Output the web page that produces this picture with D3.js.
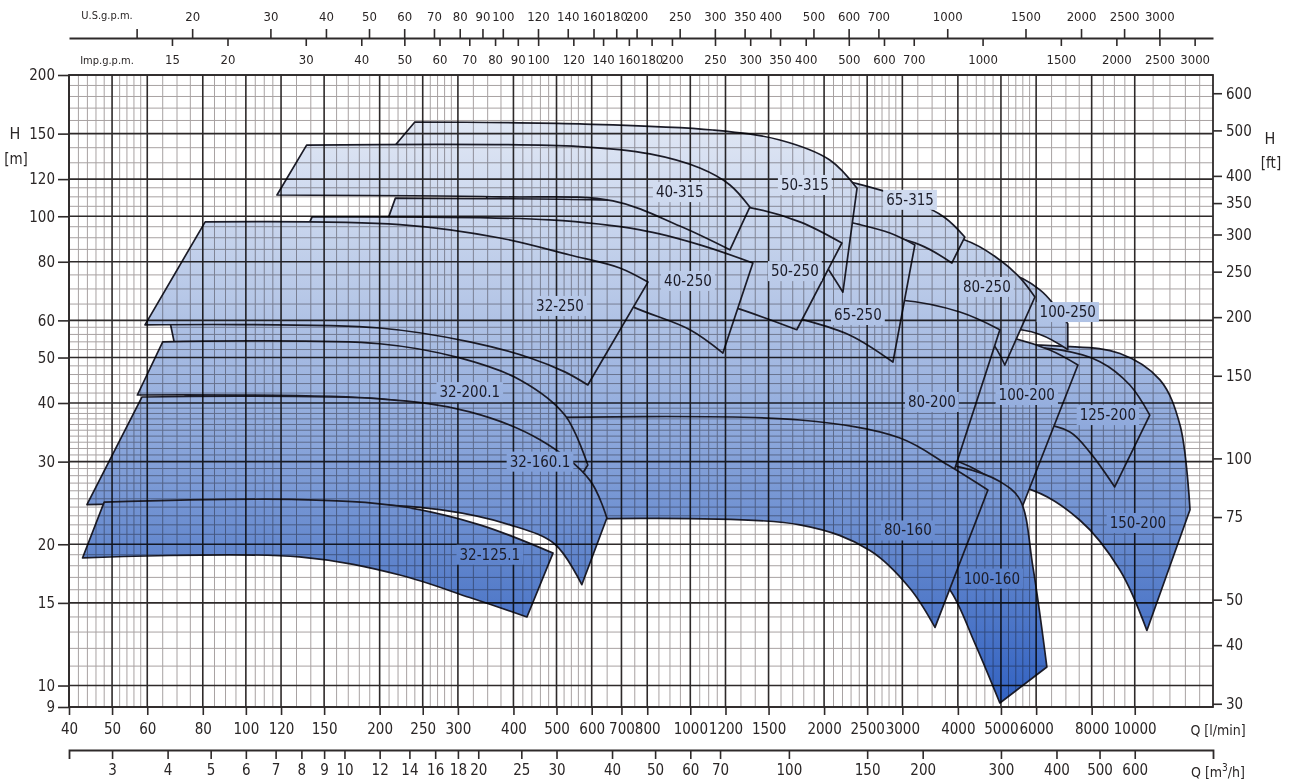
<!DOCTYPE html>
<html><head><meta charset="utf-8">
<script src="https://cdn.jsdelivr.net/npm/d3@7"></script>
<style>body{margin:0;background:#fff}</style></head>
<body><svg id="c" width="1291" height="783"></svg>
<script>
// ---------- axis data ----------
const qTicks=[40,50,60,80,100,120,150,200,250,300,400,500,600,700,800,1000,1200,1500,2000,2500,3000,4000,5000,6000,8000,10000];
const qMinor=[42,44,46,48,52,54,56,58,65,70,75,85,90,95,105,110,115,130,140,160,170,180,190,210,220,230,240,260,270,280,290,325,350,375,420,440,460,480,520,540,560,580,650,750,850,900,950,1050,1100,1150,1300,1400,1600,1700,1800,1900,2100,2200,2300,2400,2600,2700,2800,2900,3250,3500,3750,4200,4400,4600,4800,5200,5400,5600,5800,6500,7000,7500,8500,9000,9500,11000,12000,13000,14000];
const hTicks=[200,150,120,100,80,60,50,40,30,20,15,10,9];
const hMinor=[11,12,13,14,16,17,18,19,21,22,23,24,25,26,27,28,29,31,32,33,34,35,36,37,38,39,42,44,46,48,52,54,56,58,65,70,75,85,90,95,105,110,115,130,140,160,170,180,190];
const ftTicks=[600,500,400,350,300,250,200,150,100,75,50,40,30];
const usTicks=[15,20,30,40,50,60,70,80,90,100,120,140,160,180,200,250,300,350,400,500,600,700,1000,1500,2000,2500,3000];
const impTicks=[15,20,30,40,50,60,70,80,90,100,120,140,160,180,200,250,300,350,400,500,600,700,1000,1500,2000,2500,3000];
const m3hTicks=[3,4,5,6,7,8,9,10,12,14,16,18,20,25,30,40,50,60,70,100,150,200,300,400,500,600];

// ---------- pump tiles (Q l/min, H m), drawn back to front ----------
const names=["150-200","125-200","100-250","100-200","100-160","80-250","80-200","80-160","65-315","65-250","50-315","50-250","40-315","40-250","32-250","32-200.1","32-160.1","32-125.1"];
const tops=[
 [[2000,53],[6787,52.9],[9265,51.0],[11396,44.8],[12642,35.9],[13315,23.7]],
 [[2500,54.2],[6787,51.9],[8352,49.0],[9749,43.7],[10810,37.7]],
 [[1500,88],[4972,76.8],[6119,69.7],[7068,59]],
 [[1051,60.1],[2963,58.7],[4972,55.8],[6437,51.9],[7450,48.2]],
 [[1500,30.5],[2963,30.0],[4042,29.2],[4972,27.2],[5516,24.9],[5900,17.9],[6343,10.95]],
 [[626,100.7],[2408,95.7],[4146,89.0],[4972,80.7],[5516,74.0],[5962,67.3]],
 [[66,66],[1764,65.6],[2963,66.3],[4042,62.5],[4972,57.3]],
 [[450,37.2],[1764,36.8],[2963,33.7],[3800,29.5],[4673,26.1]],
 [[373,128.6],[1051,126.6],[1957,122.4],[2383,117.2],[3122,108.4],[3741,99.3],[4146,90.3]],
 [[336,108.4],[1051,105.7],[1764,102],[2383,96.2],[2813,92.1],[3201,86.9]],
 [[240,158.8],[564,157.3],[1124,152.7],[1590,145.4],[2060,131.8],[2372,114.7]],
 [[217,109.3],[626,108.4],[1051,106.7],[1361,104.3],[1764,97.3],[2193,87.7]],
 [[137,141.8],[564,140.8],[811,135.8],[1051,126.7],[1228,116.6],[1361,104.6]],
 [[141,99.7],[483,98.2],[771,93.5],[1051,86.9],[1383,79.5]],
 [[81,97.3],[222,96.0],[373,89.9],[536,82.7],[694,77.6],[803,72.4]],
 [[65,54],[200,53.5],[303,49.9],[414,44.8],[522,37.7],[588,29.5]],
 [[58.4,41.2],[200,40.8],[319,38.3],[459,33.4],[594,27.4],[649,22.75]],
 [[48,24.6],[132,24.9],[222,24.1],[336,22.0],[491,19.15]]
];
const bottoms=[
 [[2000,27.5],[2963,27.4],[5658,26.4],[7529,22.5],[9265,17.6],[10650,13.1]],
 [[2500,36.8],[6119,36.1],[7149,34.7],[7928,31.4],[9014,26.5]],
 [[1500,60],[4972,58],[6119,56],[7068,52]],
 [[1051,33.4],[2963,31.8],[4042,29.9],[4972,26.7],[5571,23.9]],
 [[1500,24],[2500,22],[3300,18.5],[3837,16.0],[4369,12.3],[4972,9.18]],
 [[626,67.9],[2963,66.3],[4042,60.1],[4722,54.5],[5101,48.2]],
 [[73,41.6],[536,37.2],[1764,36.4],[2671,33.4],[3287,29.9],[3798,26.1]],
 [[430,22.5],[1764,22.0],[2536,19.4],[3122,16.1],[3553,13.3]],
 [[336,100.7],[1361,98.2],[2408,93.5],[3287,86.9],[3876,79.5]],
 [[319,69.7],[1051,67.9],[1736,60.7],[2286,55.8],[2857,48.9]],
 [[180,115],[564,112],[1051,108],[1500,100],[1800,92],[2039,77.4],[2205,68.9]],
 [[190,76.8],[811,71.7],[1247,64.1],[1736,57.3]],
 [[117.5,111],[373,110],[670,107.8],[947,95.3],[1228,84.8]],
 [[126,80],[373,78.7],[564,73.2],[743,64.1],[998,57.3],[1184,51.1]],
 [[59.3,58.7],[200,57.8],[319,54.0],[436,49.9],[522,46.6],[588,43.7]],
 [[57,41.6],[200,40.8],[303,38.3],[393,34.7],[471,29.5],[501,23.1]],
 [[43.9,24.3],[155,24.5],[273,23.7],[393,22.0],[496,20.0],[570,16.4]],
 [[42.9,18.7],[132,18.8],[222,17.2],[319,15.4],[429,14.0]]
];
const labelQ=[10165,8700,7068,5715,4769,4648,3497,3087,3122,2383,1810,1719,947,988,509,319,459,354];
const labelH=[22.2,37.7,62.5,41.6,16.9,70.7,40.2,21.4,108.4,61.6,116.6,76.4,112.6,72.8,64.4,42.2,30.0,19.0];

// ---------- drawing ----------
const FF="'Liberation Sans Narrow','DejaVu Sans Condensed','Liberation Sans',sans-serif";
const svg=d3.select("#c");
const x=d3.scaleLog().domain([40,15000]).range([69,1213]);
const y=d3.scaleLog().domain([9,200]).range([707,75]);
const yFt=d3.scaleLog().domain([9*3.28084,200*3.28084]).range([707,75]);
const xUS=d3.scaleLog().domain([40/3.7854,15000/3.7854]).range([69,1213]);
const xImp=d3.scaleLog().domain([40/4.5461,15000/4.5461]).range([69,1213]);
const xM3=d3.scaleLog().domain([40*0.06,15000*0.06]).range([69,1213]);

const defs=svg.append("defs");
const g=defs.append("linearGradient").attr("id","grad").attr("gradientUnits","userSpaceOnUse")
 .attr("x1",0).attr("x2",0).attr("y1",110).attr("y2",705);
[[0,"#e3e9f5"],[0.32,"#b6c7e7"],[0.57,"#88a4da"],[0.76,"#5f84cc"],[1,"#3262c2"]]
 .forEach(s=>g.append("stop").attr("offset",s[0]).attr("stop-color",s[1]));

const line=d3.line().x(d=>x(d[0])).y(d=>y(d[1])).curve(d3.curveCatmullRom.alpha(0.5));
const tileG=svg.append("g");
names.forEach((n,i)=>{
 const t=line(tops[i]);
 const b=line(bottoms[i].slice().reverse()).replace(/^M/,"L");
 tileG.append("path").attr("d",t+b+"Z").attr("fill","url(#grad)")
  .attr("stroke","#1c1c28").attr("stroke-width",1.7).attr("stroke-linejoin","round");
});

// grid
const grid=svg.append("g").style("mix-blend-mode","multiply");
grid.selectAll(".vm").data(qMinor).join("line").attr("x1",d=>x(d)).attr("x2",d=>x(d)).attr("y1",75).attr("y2",707)
 .attr("stroke","#a8a2a2").attr("stroke-width",1);
grid.selectAll(".hm").data(hMinor).join("line").attr("y1",d=>y(d)).attr("y2",d=>y(d)).attr("x1",69).attr("x2",1213)
 .attr("stroke","#a8a2a2").attr("stroke-width",1);
grid.selectAll(".vM").data(qTicks).join("line").attr("x1",d=>x(d)).attr("x2",d=>x(d)).attr("y1",75).attr("y2",707)
 .attr("stroke","#2e2a2a").attr("stroke-width",1.6);
grid.selectAll(".hM").data(hTicks).join("line").attr("y1",d=>y(d)).attr("y2",d=>y(d)).attr("x1",69).attr("x2",1213)
 .attr("stroke","#2e2a2a").attr("stroke-width",1.6);
svg.append("rect").attr("x",69).attr("y",75).attr("width",1213-69).attr("height",707-75)
 .attr("fill","none").attr("stroke","#2e2a2a").attr("stroke-width",1.8);

// labels
names.forEach((n,i)=>{
 const lg=svg.append("g");
 const t=lg.append("text").attr("x",x(labelQ[i])).attr("y",y(labelH[i])).attr("text-anchor","middle")
  .attr("dominant-baseline","central").attr("font-family",FF).attr("font-size",15).attr("fill","#1c1c28").text(n);
 const bb=t.node().getBBox();
 lg.insert("rect","text").attr("x",bb.x-3).attr("y",bb.y-1).attr("width",bb.width+6).attr("height",bb.height+2).attr("fill","url(#grad)");
});

function styleAxis(sel,fs){
 sel.selectAll("text").attr("font-family",FF).attr("font-size",fs||15).attr("fill","#2a2626");
 sel.selectAll("line").attr("stroke","#2e2a2a").attr("stroke-width",1.6);
 sel.selectAll("path.domain").attr("stroke","#2e2a2a").attr("stroke-width",1.8);
}
const fmt=d3.format("d");
svg.append("g").attr("transform","translate(69,0)")
 .call(d3.axisLeft(y).tickValues(hTicks).tickFormat(fmt).tickSize(11).tickPadding(3).tickSizeOuter(0))
 .call(styleAxis).call(s=>s.select(".domain").remove());
svg.append("g").attr("transform","translate(1213,0)")
 .call(d3.axisRight(yFt).tickValues(ftTicks).tickFormat(fmt).tickSize(9).tickPadding(4).tickSizeOuter(0))
 .call(styleAxis).call(s=>s.select(".domain").remove());
svg.append("g").attr("transform","translate(0,707)")
 .call(d3.axisBottom(x).tickValues(qTicks).tickFormat(fmt).tickSize(8).tickPadding(8).tickSizeOuter(0))
 .call(styleAxis).call(s=>s.select(".domain").remove());
svg.append("g").attr("transform","translate(0,750)")
 .call(d3.axisBottom(xM3).tickValues(m3hTicks).tickFormat(fmt).tickSize(9).tickPadding(5).tickSizeOuter(9))
 .call(styleAxis);
svg.append("g").attr("transform","translate(0,38)")
 .call(d3.axisTop(xUS).tickValues(usTicks).tickFormat(d=>d===15?"":fmt(d)).tickSize(9).tickPadding(8).tickSizeOuter(0))
 .call(s=>styleAxis(s,13));
svg.append("g").attr("transform","translate(0,38)")
 .call(d3.axisBottom(xImp).tickValues(impTicks).tickFormat(fmt).tickSize(8).tickPadding(9).tickSizeOuter(0))
 .call(s=>styleAxis(s,13)).call(s=>s.select(".domain").remove());

function txt(xp,yp,s,size,anchor){
 return svg.append("text").attr("x",xp).attr("y",yp).attr("font-family",FF).attr("font-size",size)
  .attr("text-anchor",anchor||"middle").attr("dominant-baseline","central").attr("fill","#2a2626").text(s);
}
txt(107,15,"U.S.g.p.m.",11);
txt(107,60,"Imp.g.p.m.",11);
txt(15,133,"H",16);
txt(16,159,"[m]",15);
txt(1270,138,"H",16);
txt(1271,163,"[ft]",15);
txt(1218,730,"Q [l/min]",14);
const qm=txt(1218,772,"",14);
qm.append("tspan").text("Q [m");
qm.append("tspan").attr("dy",-5).attr("font-size",10).text("3");
qm.append("tspan").attr("dy",5).text("/h]");
</script></body></html>
